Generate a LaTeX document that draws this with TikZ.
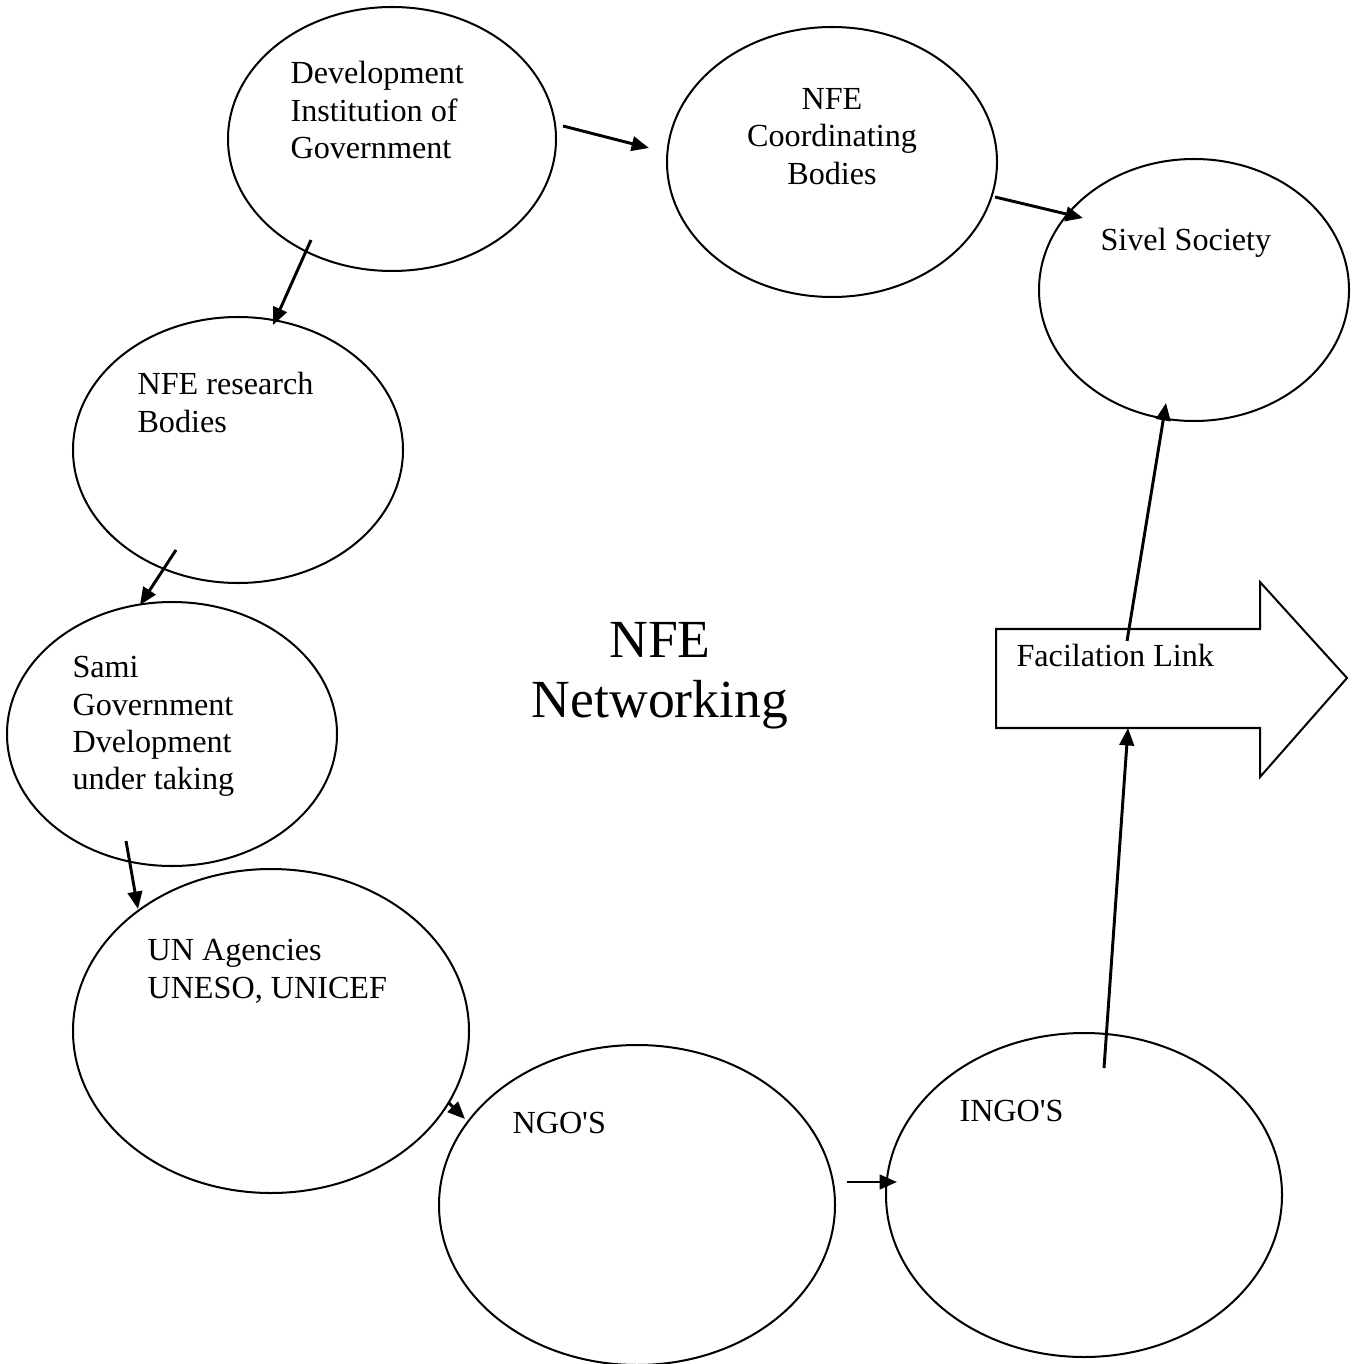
\documentclass[tikz,border=0pt]{standalone}
\usepackage{fontspec}
\setmainfont{Liberation Serif}
\usetikzlibrary{arrows.meta,shapes.geometric}
\begin{document}
\begin{tikzpicture}[x=0.373pt,y=-0.373pt,
  oval/.style={draw,line width=0.75pt,ellipse,inner sep=0pt},
  lbl/.style={anchor=north west,align=left,inner sep=0pt,font=\fontsize{12pt}{13.9pt}\selectfont},
  arr/.style={line width=1.1pt,-{Triangle[length=6.5pt,width=5.4pt]}}]
\useasboundingbox (0,0) rectangle (1352,1364);
\tikzset{ell/.style args={#1/#2}{oval,minimum width=#1*0.746pt,minimum height=#2*0.746pt}}
% ellipses
\node[ell=164/132] (dev) at (392,139) {};
\node[ell=165/135] (coord) at (832,162) {};
\node[ell=155/131] (sivel) at (1194,290) {};
\node[ell=165/133] (res) at (238,450) {};
\node[ell=165/132] (sami) at (172,734) {};
\node[ell=198/162] (un) at (271,1031) {};
\node[ell=198/160] (ngo) at (637,1205) {};
\node[ell=198/162] (ingo) at (1084,1195) {};
% big arrow
\draw[line width=0.75pt] (996,629) -- (1260,629) -- (1260,582) -- (1347,678) -- (1260,777) -- (1260,728) -- (996,728) -- cycle;
\coordinate (flbot) at (1128,728);
% texts
\node[lbl] (tdev) at (290,61) {Development\\Institution of\\Government};
\node[anchor=north,align=center,inner sep=0pt,font=\fontsize{12pt}{13.9pt}\selectfont] (tcoord) at (832,88) {NFE\\Coordinating\\Bodies};
\node[lbl] (tsivel) at (1100,228) {Sivel Society};
\node[lbl] (tres) at (137,372) {NFE research\\Bodies};
\node[lbl] (tsami) at (72,656) {Sami\\Government\\Dvelopment\\under taking};
\node[lbl] (tun) at (147,939) {UN Agencies\\UNESO, UNICEF};
\node[lbl] (tngo) at (512,1112) {NGO\textquotesingle S};
\node[lbl] (tingo) at (959,1100) {INGO\textquotesingle S};
\node[lbl] (tfl) at (1016,644) {Facilation Link};
\node[anchor=north,align=center,inner sep=0pt,font=\fontsize{20pt}{22.5pt}\selectfont] (tnfe) at (660,622) {NFE\\Networking};
% connector end points
\coordinate (a1) at (563,126); \coordinate (b1) at (649,148);
\coordinate (a2) at (995,197); \coordinate (b2) at (1083,218);
\coordinate (a3) at (311,240); \coordinate (b3) at (273,325);
\coordinate (a4) at (176,550); \coordinate (b4) at (140,605);
\coordinate (a5) at (126,841); \coordinate (b5) at (138,909);
\coordinate (a6) at (449,1103); \coordinate (b6) at (465,1119);
\coordinate (a7) at (847,1182); \coordinate (b7) at (897,1182);
\coordinate (a8) at (1104,1068);
\coordinate (a9) at (1127,641); \coordinate (b9) at (1166,403);
\draw[arr] (a1) -- (b1);
\draw[arr] (a2) -- (b2);
\draw[arr] (a3) -- (b3);
\draw[arr] (a4) -- (b4);
\draw[arr] (a5) -- (b5);
\draw[arr] (a6) -- (b6);
\draw[arr] (a7) -- (b7);
\draw[arr] (a8) -- (flbot);
\draw[arr] (a9) -- (b9);
\end{tikzpicture}
\end{document}
